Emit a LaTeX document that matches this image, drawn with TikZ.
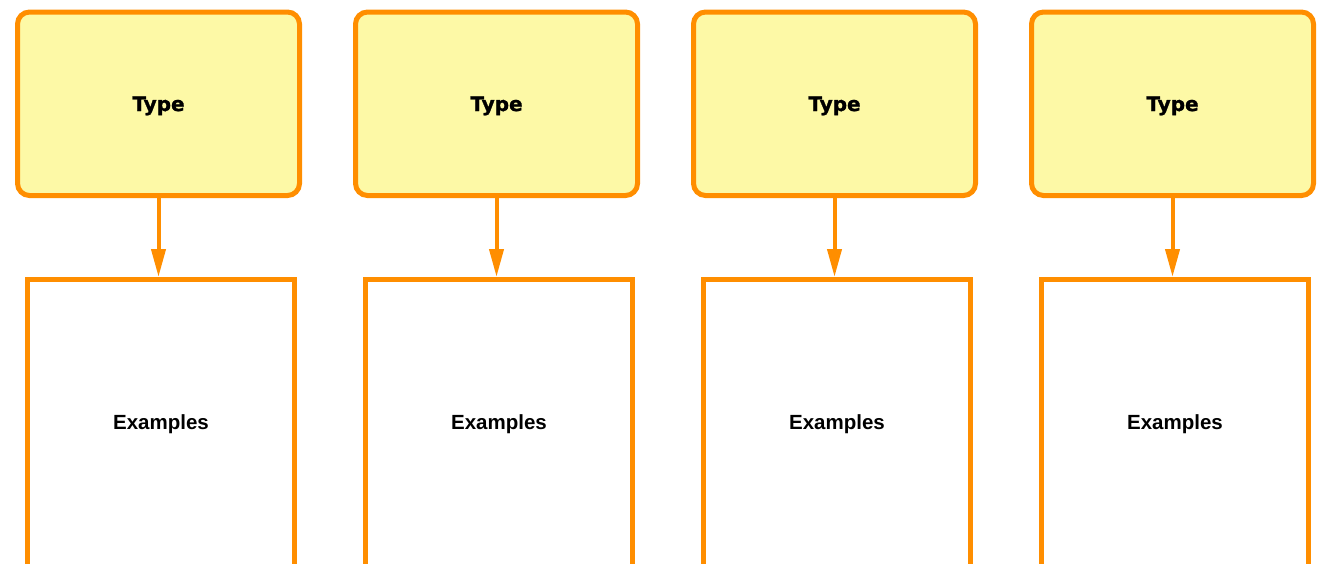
\documentclass[tikz,border=0pt]{standalone}
\usepackage{fontspec}
\setmainfont{Liberation Sans}
\newfontfamily\heavyfont{DejaVu Sans Bold}[FakeBold=1.2]
\usetikzlibrary{arrows.meta,positioning}
\definecolor{typeorange}{RGB}{255,142,0}
\definecolor{typeyellow}{RGB}{253,249,166}
\tikzset{
    type box/.style={rectangle, draw=typeorange, line width=5pt, fill=typeyellow, rounded corners=12pt,
        minimum width=282pt, minimum height=183.5pt, text depth=0pt, align=center,
        font=\heavyfont\fontsize{20}{24}\selectfont},
    example box/.style={rectangle, draw=typeorange, line width=5pt, fill=white,
        minimum width=267pt, minimum height=290pt, text depth=4pt, align=center,
        font=\bfseries\fontsize{20.5}{24}\selectfont},
    type arrow/.style={-{Triangle[length=28pt,width=14pt]}, draw=typeorange, fill=typeorange, line width=4pt}
}
\begin{document}
\begin{tikzpicture}[x=1pt,y=-1pt]
	\useasboundingbox (0,0) rectangle (1330,563);
		\begin{scope}[node distance=51pt]
			\node[type box] (t1) at (158.5,103.75) {Type};
			\node[type box, right=of t1] (t2) {Type};
			\node[type box, right=of t2] (t3) {Type};
			\node[type box, right=of t3] (t4) {Type};
		\end{scope}
		\begin{scope}[node distance=79pt]
			\node[example box, below=of t1, xshift=2.5pt] (b1) {Examples};
			\node[example box, below=of t2, xshift=2.5pt] (b2) {Examples};
			\node[example box, below=of t3, xshift=2.5pt] (b3) {Examples};
			\node[example box, below=of t4, xshift=2.5pt] (b4) {Examples};
		\end{scope}
		\draw[type arrow] (t1.south) -- (t1.south |- b1.north);
		\draw[type arrow] (t2.south) -- (t2.south |- b2.north);
		\draw[type arrow] (t3.south) -- (t3.south |- b3.north);
		\draw[type arrow] (t4.south) -- (t4.south |- b4.north);
	\end{tikzpicture}
\end{document}
